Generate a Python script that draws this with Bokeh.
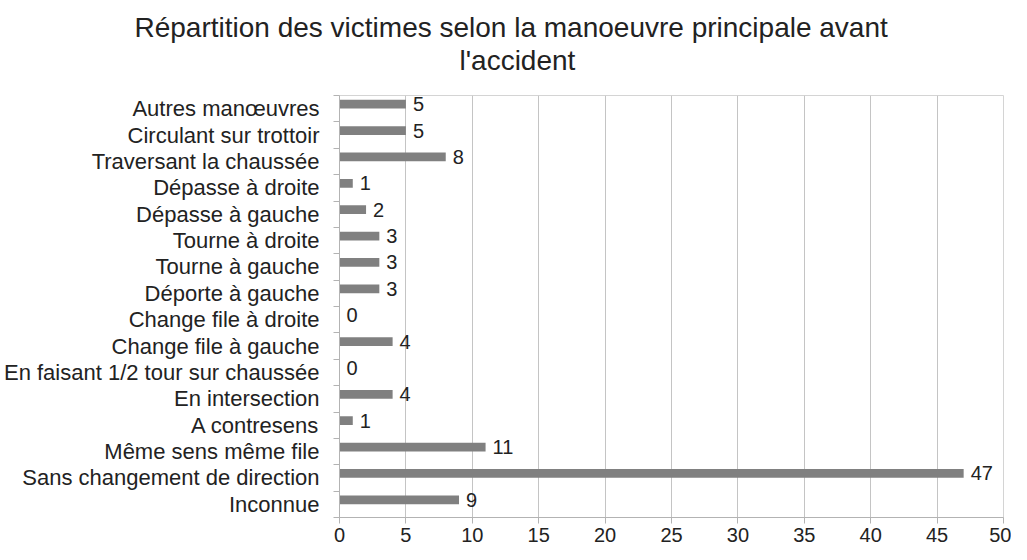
from bokeh.plotting import figure
from bokeh.models import Title, FixedTicker, SingleIntervalTicker, LinearAxis, Range1d, ColumnDataSource
from bokeh.embed import file_html
from bokeh.resources import INLINE
from bokeh.core.properties import value

# Data (top to bottom as displayed)
categories = [
    "Autres manœuvres",
    "Circulant sur trottoir",
    "Traversant la chaussée",
    "Dépasse à droite",
    "Dépasse à gauche",
    "Tourne à droite",
    "Tourne à gauche",
    "Déporte à gauche",
    "Change file à droite",
    "Change file à gauche",
    "En faisant 1/2 tour sur chaussée",
    "En intersection",
    "A contresens",
    "Même sens même file",
    "Sans changement de direction",
    "Inconnue",
]
victims = [5, 5, 8, 1, 2, 3, 3, 3, 0, 4, 0, 4, 1, 11, 47, 9]
title_line1 = "Répartition des victimes selon la manoeuvre principale avant"
title_line2 = "l'accident"
x_ticks_interval = 5

FONT = "Liberation Sans"
TXT = "#222222"
BAR_SHIFT = 0.17  # bars sit slightly above the category centre, as in the original
n = len(categories)
ypos = [n - 1 - i for i in range(n)]

src = ColumnDataSource(dict(y=ypos, yb=[y + BAR_SHIFT for y in ypos],
                            v=victims, lbl=[str(v) for v in victims]))

p = figure(width=1011, height=544, output_backend="svg", toolbar_location=None,
           x_range=Range1d(0, 50), y_range=Range1d(-0.5, n - 0.5),
           x_axis_location=None, y_axis_location=None, title=None,
           min_border_left=0, min_border_right=8, min_border_top=0, min_border_bottom=0)
p.background_fill_color = "white"
p.border_fill_color = "white"
p.outline_line_color = "#d4d4d4"

spacer_bottom = Title(text=" ", text_font_size="1px", standoff=17)
t2 = Title(text=title_line2, align="left", offset=460 - 340, text_font=FONT,
           text_font_size="28px", text_font_style="normal", text_color=TXT, standoff=0)
t1 = Title(text=title_line1, align="left", offset=135 - 340, text_font=FONT,
           text_font_size="28px", text_font_style="normal", text_color=TXT, standoff=0)
spacer_top = Title(text=" ", text_font_size="1px", standoff=6)
p.add_layout(spacer_bottom, "above")
p.add_layout(t2, "above")
p.add_layout(t1, "above")
p.add_layout(spacer_top, "above")

xaxis = LinearAxis(ticker=SingleIntervalTicker(interval=x_ticks_interval, num_minor_ticks=0))
xaxis.axis_line_color = "#b3b3b3"
xaxis.major_tick_line_color = "#b3b3b3"
xaxis.major_tick_out = 6
xaxis.major_tick_in = 0
xaxis.minor_tick_line_color = None
xaxis.major_label_standoff = 4
xaxis.major_label_text_font = FONT
xaxis.major_label_text_font_size = "20px"
xaxis.major_label_text_color = TXT
p.add_layout(xaxis, "below")

boundaries = [i - 0.5 for i in range(n + 1)]
yaxis = LinearAxis(ticker=FixedTicker(ticks=ypos, minor_ticks=boundaries))
yaxis.major_label_overrides = {y: c for y, c in zip(ypos, categories)}
yaxis.axis_line_color = "#b3b3b3"
yaxis.major_tick_line_color = None
yaxis.major_tick_out = 0
yaxis.major_tick_in = 0
yaxis.minor_tick_line_color = "#b3b3b3"
yaxis.minor_tick_out = 6
yaxis.minor_tick_in = 0
yaxis.major_label_standoff = 14
yaxis.major_label_text_font = FONT
yaxis.major_label_text_font_size = "22px"
yaxis.major_label_text_color = TXT
p.add_layout(yaxis, "left")

p.xgrid.ticker = SingleIntervalTicker(interval=x_ticks_interval, num_minor_ticks=0)
p.xgrid.grid_line_color = "#c4c4c4"
p.ygrid.grid_line_color = None

p.hbar(y="yb", right="v", left=0, height=0.33, source=src,
       fill_color="#808080", line_color=None)
p.text(x="v", y="yb", text="lbl", source=src, x_offset=7,
       text_baseline="middle", text_align="left",
       text_font=value(FONT), text_font_size="20px", text_color=TXT)

open("out.html", "w").write(file_html(p, INLINE))
